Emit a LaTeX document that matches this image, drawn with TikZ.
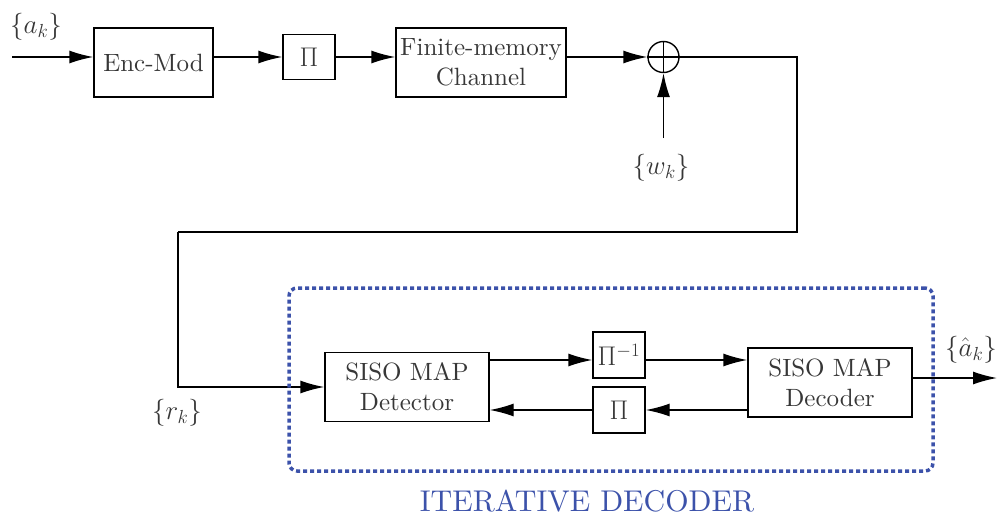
\RequirePackage{fix-cm}
\documentclass[tikz,border=0pt]{standalone}
\usepackage{fontspec}
\setmainfont{lmroman10-regular}[Extension=.otf]
\usetikzlibrary{arrows.meta}
\definecolor{itblue}{RGB}{60,82,170}
\definecolor{txtgray}{RGB}{55,55,55}
\newcommand{\bigtxt}{\fontsize{25}{30}\selectfont}
\newcommand{\lbltxt}{\fontsize{27}{32}\selectfont}
\tikzset{
  blk/.style={draw, line width=1.4pt, inner sep=0pt, text=txtgray, align=center, font=\bigtxt},
  pibox/.style={blk, font=\lbltxt, minimum width=52pt, minimum height=46pt},
  conn/.style={line width=1.4pt, -{Latex[length=24pt,width=13pt]}},
  wire/.style={line width=1.4pt},
  lbl/.style={inner sep=0pt, text=txtgray, font=\lbltxt},
}
\begin{document}
\begin{tikzpicture}[x=1pt,y=-1pt]
\useasboundingbox (0,0) rectangle (997,514);
% top row
\coordinate (in) at (12,57);
\node[blk, minimum width=119pt, minimum height=69pt] (enc) at (153.5,62.5) {Enc-Mod};
\node[pibox, minimum height=45pt] (pi1) at (309,57) {$\Pi$};
\node[blk, minimum width=170pt, minimum height=69pt] (chan) at (481,62.5) {Finite-memory\\Channel};
\node[draw, circle, line width=1.4pt, minimum size=31pt, inner sep=0pt] (sum) at (663.5,57) {};
\draw[line width=1.4pt] (sum.north) -- (sum.south) (sum.west) -- (sum.east);
\node[lbl] (ak) at (36,27) {$\{a_k\}$};
\node[lbl] (wk) at (661,168) {$\{w_k\}$};
\coordinate (wks) at (663.5,138);
\draw[conn] (in) -- (enc.west |- in);
\draw[conn] (enc.east |- pi1.west) -- (pi1.west);
\draw[conn] (pi1.east) -- (chan.west |- pi1.east);
\draw[conn] (chan.east |- sum.west) -- (sum.west);
\draw[conn] (wks) -- (sum.south);
% feedback wire
\coordinate (c1) at (797,232);
\coordinate (c2) at (178,232);
% bottom
\node[blk, minimum width=164pt, minimum height=69pt] (det) at (407,387) {SISO MAP\\Detector};
\node[pibox] (pinv) at (619,355) {$\Pi^{-1}$};
\node[pibox] (pi2) at (619,410) {$\Pi$};
\node[blk, minimum width=164pt, minimum height=69pt] (dec) at (830,382.5) {SISO MAP\\Decoder};
\node[lbl] (rk) at (177,413) {$\{r_k\}$};
\node[lbl] (ahk) at (971,350) {$\{\hat{a}_k\}$};
\coordinate (out) at (997,378);
\draw[wire] (sum.east) -| (c1) -- (c2);
\draw[conn] (c2) |- (det.west);
\draw[conn] (det.east |- 0,360) -- (pinv.west |- 0,360);
\draw[conn] (pinv.east |- 0,360) -- (dec.west |- 0,360);
\draw[conn] (dec.west |- pi2.east) -- (pi2.east);
\draw[conn] (pi2.west) -- (det.east |- pi2.west);
\draw[conn] (dec.east |- out) -- (out);
% iterative decoder frame
\node[draw=itblue, line width=3.5pt, dash pattern=on 4pt off 3pt, rounded corners=8pt,
      minimum width=644pt, minimum height=183pt, inner sep=0pt] (frame) at (611,379.5) {};
\node[text=itblue, inner sep=0pt, anchor=base, font=\fontsize{30}{36}\selectfont] (itlbl) at (587,511) {ITERATIVE DECODER};
\end{tikzpicture}
\end{document}
